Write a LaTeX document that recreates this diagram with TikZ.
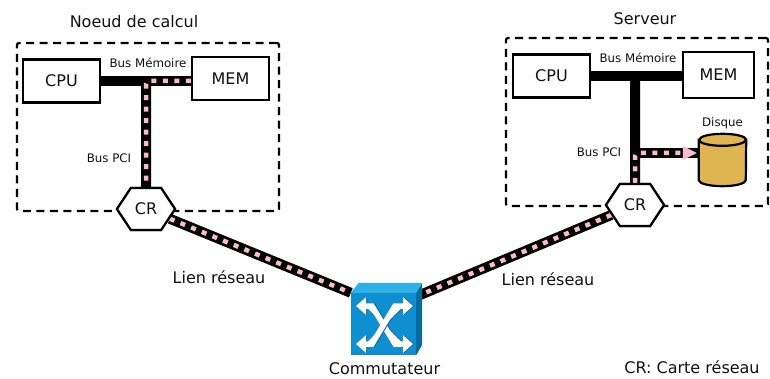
\documentclass[tikz,border=0pt]{standalone}
\usepackage{fontspec}
\setmainfont{DejaVu Sans}
\usetikzlibrary{arrows.meta, calc, positioning, shapes.symbols}

\definecolor{inkc}{HTML}{111111}
\definecolor{busp}{HTML}{F8BCCB}
\definecolor{diskc}{HTML}{DFB552}
\definecolor{swfront}{HTML}{0F8FD2}
\definecolor{swtop}{HTML}{2FB0E6}
\definecolor{swside}{HTML}{0A6A9C}

\begin{document}
\begin{tikzpicture}[
  x=1pt, y=-1pt,
  every node/.style={text=inkc, inner sep=0pt},
  txt/.style={font=\fontsize{16}{18}\selectfont},
  small/.style={font=\fontsize{11.8}{14}\selectfont},
  cell/.style={draw=black, line width=2.2pt, fill=white, minimum width=77pt, minimum height=43pt, font=\fontsize{16}{18}\selectfont},
  group/.style={draw=black, line width=2.2pt, dash pattern=on 8pt off 5.5pt, rounded corners=2pt, minimum width=262pt, minimum height=168pt},
  cr/.style={draw=black, line width=2.2pt, fill=white, shape=signal, signal to=east and west, signal pointer angle=113, minimum width=58pt, minimum height=42pt, font=\fontsize{16}{18}\selectfont},
  bus/.style={draw=black, line width=10pt},
  flow/.style={draw=busp, line width=4.5pt, dash pattern=on 5pt off 6.5pt, rounded corners=3pt},
  swarrow/.style={line width=5.5pt, {Triangle[width=17pt,length=10pt]}-{Triangle[width=17pt,length=10pt]}}
]
\useasboundingbox (0,0) rectangle (770,379);

% Dashed groups
\node[group] (NODE) at (148,127) {};
\node[group] (SRV) at (637,122) {};
\node[txt, above=14pt of NODE.north, xshift=-14pt] (NODEtxt) {Noeud de calcul};
\node[txt, above=12pt of SRV.north, xshift=8pt] (SRVtxt) {Serveur};

% Compute node blocks
\node[cell] (CPUa) at (61.5,81) {CPU};
\node[cell] (MEMa) at (230.5,78.5) {MEM};
\node[cr] (CRa) at (146,209) {CR};
\coordinate (Ja) at (146,81);

% Server blocks
\node[cell] (CPUb) at (551.5,76) {CPU};
\node[cell, minimum width=71pt, minimum height=46pt] (MEMb) at (718.5,75) {MEM};
\node[cr] (CRb) at (635,205) {CR};
\coordinate (Jb) at (635,76);
\coordinate (Jc) at (635,153);
\node[minimum width=47pt, minimum height=52pt] (DISK) at (722.5,160) {};
\node[small, above=5pt of DISK.north] (DISKtxt) {Disque};

% Switch
\node[fill=swfront, minimum width=65pt, minimum height=62pt] (SW) at (383.5,324) {};
\coordinate (SWr) at (420,295);
\node[txt, below=7pt of SW.south, xshift=1pt] (SWtxt) {Commutateur};

% Black buses
\draw[bus] (CPUa.east |- Ja) -- (MEMa.west |- Ja);
\draw[bus] (Ja) -- (CRa);
\draw[bus] (CPUb.east |- Jb) -- (MEMb.west |- Jb);
\draw[bus] (Jb) -- (CRb);
\draw[bus] (Jc) -- (Jc -| DISK.west);
\draw[bus] (CRa) -- (SW.north west);
\draw[bus] (CRb) -- (SWr);

% Disk drawn over its bus
\filldraw[draw=black, line width=2.2pt, fill=diskc] ([yshift=-6pt]DISK.north west) -- ([yshift=6pt]DISK.south west)
  arc[start angle=180, end angle=360, x radius=23.5pt, y radius=6pt] -- ([yshift=-6pt]DISK.north east)
  arc[start angle=0, end angle=180, x radius=23.5pt, y radius=6pt] -- cycle;
\draw[line width=2.2pt] ([yshift=-6pt]DISK.north west) arc[start angle=180, end angle=360, x radius=23.5pt, y radius=6pt];

% Pink traffic
\path[flow] (MEMa.west |- Ja) -- (Ja) -- (CRa.north);
\path[flow] (CRb.north |- 0,183) -- (Jc) -- ([xshift=-16pt]Jc -| DISK.west);
\fill[busp] ([xshift=-16pt]Jc -| DISK.west) ++(0,-7) -- ++(14,7) -- ++(-14,7) -- cycle;
\path[flow] (CRa) -- (SW.north west);
\path[flow] (CRb) -- (SWr);

% Nodes again on top of the lines
\node[cr] at (CRa) {CR};
\node[cr] at (CRb) {CR};

% Switch faces
\fill[swtop] (SW.north west) -- ++(8,-10) -- ++(63,0) -- (SW.north east) -- cycle;
\fill[swside] (SW.north east) -- ++(6,-10) -- ++(0,62) -- (SW.south east) -- cycle;
\node[fill=swfront, minimum width=65pt, minimum height=62pt] at (SW) {};
\foreach \col/\dx in {swside/1.2, white/0}
  \draw[swarrow, draw=\col, fill=\col, xshift=\dx] (356,306) -- (372,306) -- (395,344) -- (413,344);
\foreach \col/\dx in {swside/1.2, white/0}
  \draw[swarrow, draw=\col, fill=\col, xshift=\dx] (356,344) -- (372,344) -- (395,306) -- (413,306);

% Labels
\node[small] (BUSa) at (148,63) {Bus Mémoire};
\node[small] (BUSb) at (638,58) {Bus Mémoire};
\node[small] (PCIa) at (109,158) {Bus PCI};
\node[small] (PCIb) at (599,152) {Bus PCI};
\node[txt] (LIENa) at (219,277) {Lien réseau};
\node[txt] (LIENb) at (548,279) {Lien réseau};
\node[txt] (NOTE) at (692,367) {CR: Carte réseau};

\end{tikzpicture}
\end{document}
